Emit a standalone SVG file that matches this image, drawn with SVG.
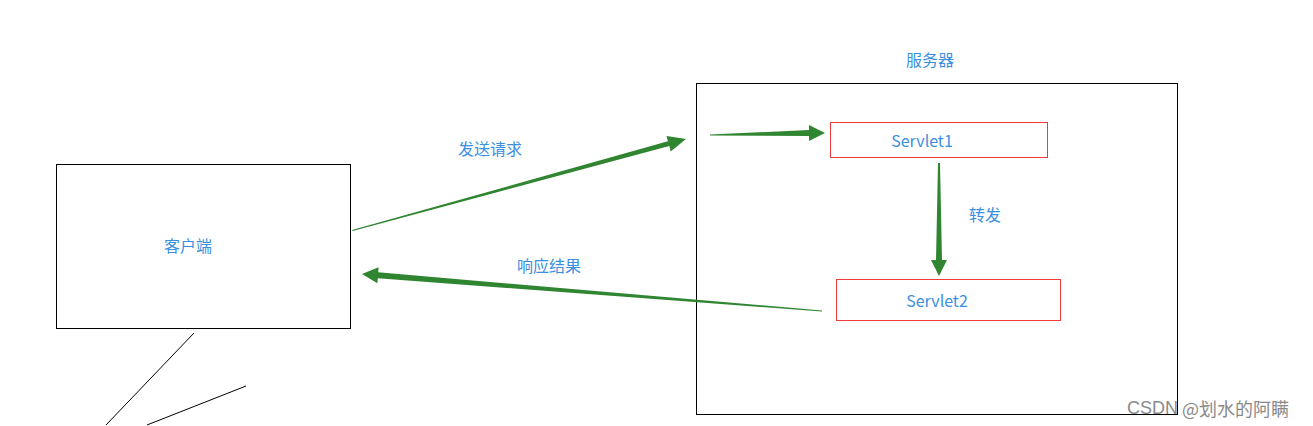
<svg xmlns="http://www.w3.org/2000/svg" width="1313" height="426" viewBox="0 0 1313 426">
<style>
.box{fill:none;stroke:#000;stroke-width:1}
.red{fill:none;stroke:#f03c3c;stroke-width:1}
.t{font-family:"Noto Sans CJK SC","Microsoft YaHei",sans-serif;font-size:16px;fill:#3b8fe0;text-anchor:middle;dominant-baseline:central}
.arr{fill:#2f8530}
.ln{stroke:#000;stroke-width:1;fill:none}
</style>
<rect width="1313" height="426" fill="#fff"/>
<g id="client">
<rect class="box" x="56.5" y="164.5" width="294" height="164"/>
<text class="t" x="188" y="245">客户端</text>
</g>
<g id="server">
<rect class="box" x="696.5" y="83.5" width="481" height="331"/>
<text class="t" x="930" y="59">服务器</text>
</g>
<g id="servlet1">
<rect class="red" x="830.5" y="122.5" width="217" height="35"/>
<text class="t" x="922" y="140">Servlet1</text>
</g>
<g id="servlet2">
<rect class="red" x="836.5" y="279.5" width="224" height="41"/>
<text class="t" x="937" y="300">Servlet2</text>
</g>
<g id="connectors">
<polygon class="arr" points="352,230 667.9,141.3 666.5,136 686,139 670.7,151.4 669.3,146.1 352.6,231"/>
<polygon class="arr" points="710,134.5 809,130 809,125 825,133 809,141 809,136 710,135.5"/>
<polygon class="arr" points="938,163 940,163 942,260 947,260 939,276 931,260 936,260"/>
<polygon class="arr" points="822,310.5 378.2,272.3 378.6,267.3 362,274 377.4,283.3 377.8,278.3 822,311.5"/>
<text class="t" x="490" y="148">发送请求</text>
<text class="t" x="549" y="265">响应结果</text>
<text class="t" x="985" y="214">转发</text>
</g>
<g id="lines">
<line class="ln" x1="194" y1="333" x2="106" y2="425"/>
<line class="ln" x1="246" y1="386" x2="147" y2="425"/>
</g>
<text x="1127" y="408" font-family="Noto Sans CJK SC,sans-serif" font-size="18" fill="#8a8a8a" dominant-baseline="central"><tspan font-family="Liberation Sans,sans-serif">CSDN</tspan> @划水的阿瞒</text>
</svg>
